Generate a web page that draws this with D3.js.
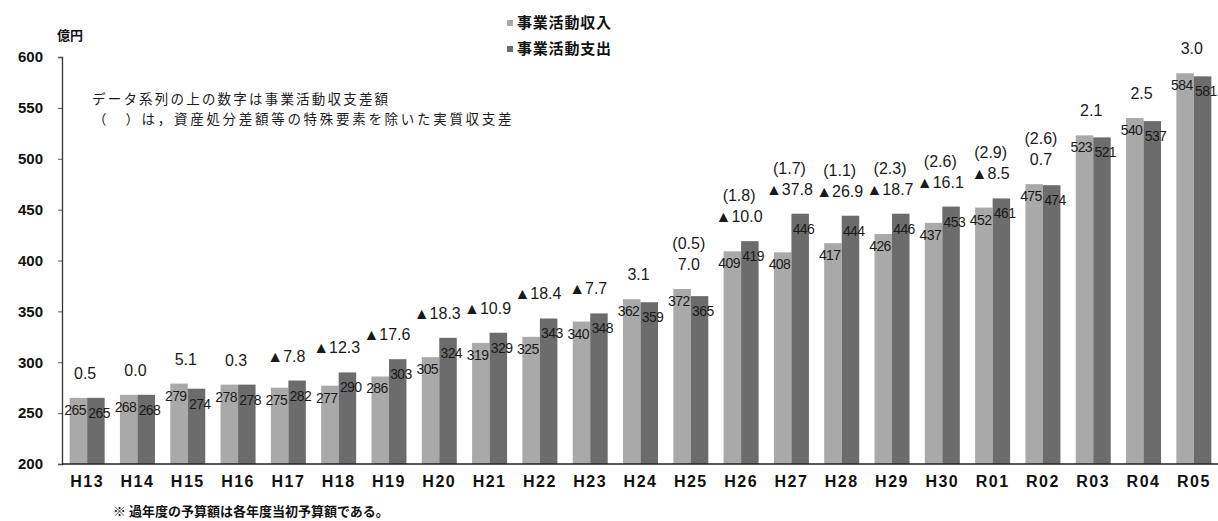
<!DOCTYPE html>
<html lang="ja">
<head>
<meta charset="utf-8">
<script src="https://cdn.jsdelivr.net/npm/d3@7"></script>
<style>
  html, body { margin: 0; padding: 0; background: #fff; }
  svg { display: block; }
  .num { font-family: "Liberation Sans", Arial, sans-serif; }
  .jp { font-family: "Noto Sans CJK JP", sans-serif; }
</style>
</head>
<body>
<svg id="chart" width="1218" height="521"></svg>
<script>
// Fiscal years
const years = ["H13","H14","H15","H16","H17","H18","H19","H20","H21","H22","H23","H24",
               "H25","H26","H27","H28","H29","H30","R01","R02","R03","R04","R05"];
// 事業活動収入 (億円)
const income = [265,268,279,278,275,277,286,305,319,325,340,362,
                372,409,408,417,426,437,452,475,523,540,584];
// 事業活動支出 (億円)
const expense = [265,268,274,278,282,290,303,324,329,343,348,359,
                 365,419,446,444,446,453,461,474,521,537,581];
// 事業活動収支差額
const balance = [0.5,0.0,5.1,0.3,-7.8,-12.3,-17.6,-18.3,-10.9,-18.4,-7.7,3.1,
                 7.0,-10.0,-37.8,-26.9,-18.7,-16.1,-8.5,0.7,2.1,2.5,3.0];
// 特殊要素を除いた実質収支差 (null = 表示なし)
const realBalance = [null,null,null,null,null,null,null,null,null,null,null,null,
                     0.5,1.8,1.7,1.1,2.3,2.6,2.9,2.6,null,null,null];
const yTicks = [200,250,300,350,400,450,500,550,600];
const seriesNames = ["事業活動収入","事業活動支出"];

const colors = { income: "#a9a9a9", expense: "#6c6c6c" };

const svg = d3.select("#chart");

const x = d3.scaleBand().domain(years).range([62, 1219]).padding(0);
const y = d3.scaleLinear().domain([200, 600]).range([464, 57]);
const barW = 17.5;
const cx = d => x(d) + x.bandwidth() / 2;

// one record per fiscal year
const rows = years.map((yr, i) => ({
  year: yr, inc: income[i], exp: expense[i], bal: balance[i], real: realBalance[i]
}));

const g = svg.append("g");

// bars
g.selectAll("rect.inc").data(rows).join("rect")
  .attr("class", "inc")
  .attr("x", d => cx(d.year) - barW)
  .attr("y", d => y(d.inc))
  .attr("width", barW)
  .attr("height", d => y(200) - y(d.inc))
  .attr("fill", colors.income);

g.selectAll("rect.exp").data(rows).join("rect")
  .attr("class", "exp")
  .attr("x", d => cx(d.year))
  .attr("y", d => y(d.exp))
  .attr("width", barW)
  .attr("height", d => y(200) - y(d.exp))
  .attr("fill", colors.expense);

// y axis
const yAxis = d3.axisLeft(y).tickValues(yTicks).tickSize(4).tickPadding(15).tickFormat(d3.format("d"));
const ya = svg.append("g").attr("transform", "translate(62,0)").call(yAxis);
ya.select(".domain").attr("stroke", "#333").attr("stroke-width", 1.3);
ya.selectAll(".tick line").attr("stroke", "#555");
ya.selectAll(".tick text")
  .attr("class", "num")
  .style("font-size", "15px").style("font-weight", "bold").attr("fill", "#111");

// x axis
const xAxis = d3.axisBottom(x).tickSize(0).tickPadding(12);
const xa = svg.append("g").attr("transform", "translate(0,464)").call(xAxis);
xa.select(".domain").attr("stroke", "#222").attr("stroke-width", 1.6)
  .attr("d", "M62,0H1218");
xa.selectAll(".tick text")
  .attr("class", "num")
  .style("font-size", "16px").style("font-weight", "bold")
  .style("letter-spacing", "1.5px").attr("fill", "#111");

// value labels on bars
g.selectAll("text.incv").data(rows).join("text")
  .attr("class", "num")
  .attr("x", d => cx(d.year) - 12)
  .attr("y", d => y(d.inc) + 17)
  .attr("text-anchor", "middle")
  .style("font-size", "14px").style("letter-spacing", "-0.6px")
  .attr("fill", "#1a1a1a")
  .text(d => d.inc);

g.selectAll("text.expv").data(rows).join("text")
  .attr("class", "num")
  .attr("x", d => cx(d.year) + 12)
  .attr("y", d => y(d.exp) + 20)
  .attr("text-anchor", "middle")
  .style("font-size", "14px").style("letter-spacing", "-0.6px")
  .attr("fill", "#1a1a1a")
  .text(d => d.exp);

// balance labels above each pair
const fmtBal = v => (v < 0 ? "▲" : "") + Math.abs(v).toFixed(1);
const topOf = d => y(Math.max(d.inc, d.exp));
g.selectAll("text.bal").data(rows).join("text")
  .attr("class", "num")
  .attr("x", d => cx(d.year) - 2)
  .attr("y", d => topOf(d) - 19)
  .attr("text-anchor", "middle")
  .style("font-size", "16px").attr("fill", "#1a1a1a")
  .text(d => fmtBal(d.bal));

g.selectAll("text.real").data(rows.filter(d => d.real !== null)).join("text")
  .attr("class", "num")
  .attr("x", d => cx(d.year) - 2)
  .attr("y", d => topOf(d) - 40)
  .attr("text-anchor", "middle")
  .style("font-size", "16px").attr("fill", "#1a1a1a")
  .text(d => "(" + d.real.toFixed(1) + ")");

// unit
svg.append("text").attr("class", "jp")
  .attr("x", 57).attr("y", 40)
  .style("font-size", "13px").style("font-weight", "bold").attr("fill", "#111")
  .text("億円");

// legend
const leg = svg.append("g").attr("transform", "translate(507,0)");
const legColors = [colors.income, colors.expense];
seriesNames.forEach((name, i) => {
  const ly = 23 + i * 26;
  leg.append("rect").attr("x", 0).attr("y", ly - 3).attr("width", 6).attr("height", 6)
    .attr("fill", legColors[i]);
  leg.append("text").attr("class", "jp")
    .attr("x", 10).attr("y", ly + 5)
    .style("font-size", "15px").style("font-weight", "bold").style("letter-spacing", "0.8px")
    .attr("fill", "#111").text(name);
});

// notes
svg.append("text").attr("class", "jp")
  .attr("x", 92).attr("y", 104)
  .style("font-size", "13.5px").style("letter-spacing", "2.2px").attr("fill", "#1a1a1a")
  .text("データ系列の上の数字は事業活動収支差額");
svg.append("text").attr("class", "jp")
  .attr("x", 93).attr("y", 124)
  .style("font-size", "13.5px").style("letter-spacing", "2.7px").attr("fill", "#1a1a1a")
  .text("（　）は，資産処分差額等の特殊要素を除いた実質収支差");

svg.append("text").attr("class", "jp")
  .attr("x", 113).attr("y", 516)
  .style("font-size", "13px").style("font-weight", "bold").attr("fill", "#111")
  .text("※ 過年度の予算額は各年度当初予算額である。");
</script>
</body>
</html>
